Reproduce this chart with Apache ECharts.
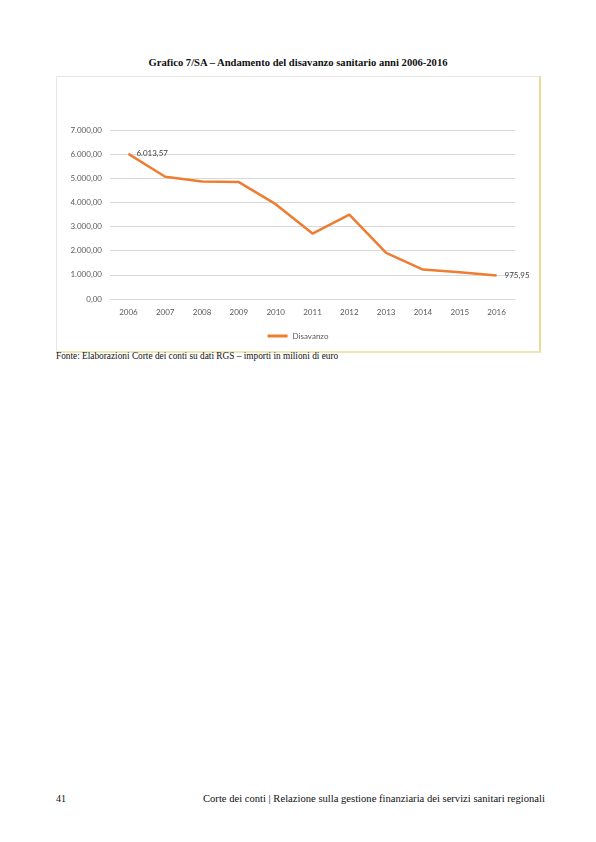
<!DOCTYPE html>
<html>
<head>
<meta charset="utf-8">
<script src="https://cdn.jsdelivr.net/npm/echarts@6/dist/echarts.min.js"></script>
<style>
  html, body { margin: 0; padding: 0; background: #fff; }
  body { width: 596px; height: 842px; position: relative; overflow: hidden; }
  .serif { font-family: "Liberation Serif", "DejaVu Serif", serif; color: #111; position: absolute; white-space: nowrap; }
  #title { top: 57px; left: 0; width: 596px; text-align: center; font-weight: bold; font-size: 10.6px; }
  #frame {
    position: absolute; left: 56px; top: 76px; width: 482px; height: 274px;
    border-top: 1px solid #e6e6e6; border-left: 1px solid #e6e6e6;
    border-right: 2px solid #e8dc9c; border-bottom: 2px solid #efe6b8;
  }
  #chart { width: 482px; height: 274px; }
  #source { top: 351px; left: 56px; font-size: 9.3px; }
  #pagenum { top: 793px; left: 56px; font-size: 10px; }
  #running { top: 793px; left: 203px; font-size: 10.6px; }
</style>
</head>
<body>
<div id="title" class="serif">Grafico 7/SA – Andamento del disavanzo sanitario anni 2006-2016</div>
<div id="frame"><div id="chart"></div></div>
<div id="source" class="serif">Fonte: Elaborazioni Corte dei conti su dati RGS – importi in milioni di euro</div>
<div id="pagenum" class="serif">41</div>
<div id="running" class="serif">Corte dei conti | Relazione sulla gestione finanziaria dei servizi sanitari regionali</div>
<script>
(function() {
	'use strict';

	var years = ['2006', '2007', '2008', '2009', '2010', '2011', '2012', '2013', '2014', '2015', '2016'];
	var disavanzo = [6013.57, 5062, 4869, 4841, 3928, 2711, 3499, 1909, 1217, 1107, 975.95];
	var labelledPoints = [0, 10];

	// formato italiano: 7.000,00
	function fmtIt(v) {
		var parts = Number(v).toFixed(2).split('.');
		return parts[0].replace(/\B(?=(\d{3})+(?!\d))/g, '.') + ',' + parts[1];
	}

	var option = {
		animation: false,
		textStyle: { fontFamily: 'Lato, "Open Sans", sans-serif' },
		grid: {
			top: 53,
			left: 53,
			right: 24,
			bottom: 52
		},
		legend: {
			bottom: 6,
			left: 'center',
			icon: 'rect',
			itemWidth: 20,
			itemHeight: 3,
			itemGap: 4,
			textStyle: { fontSize: 8, color: '#595959', fontFamily: 'Lato, sans-serif' },
			data: ['Disavanzo']
		},
		xAxis: {
			type: 'category',
			data: years,
			boundaryGap: true,
			axisLine: { lineStyle: { color: '#d9d9d9' } },
			axisTick: { show: false },
			axisLabel: { fontSize: 8, color: '#595959', margin: 9 }
		},
		yAxis: {
			type: 'value',
			min: 0,
			max: 7000,
			interval: 1000,
			axisLine: { show: false },
			axisTick: { show: false },
			splitLine: { lineStyle: { color: '#d9d9d9', width: 1 } },
			axisLabel: {
				fontSize: 8,
				color: '#595959',
				margin: 8,
				formatter: fmtIt
			}
		},
		series: [{
			name: 'Disavanzo',
			type: 'line',
			data: disavanzo,
			symbol: 'circle',
			symbolSize: 0,
			showSymbol: true,
			lineStyle: { color: '#ed7d31', width: 2.5 },
			itemStyle: { color: '#ed7d31' },
			label: {
				show: true,
				position: 'right',
				distance: 8,
				fontSize: 8,
				color: '#404040',
				formatter: function(p) {
					return labelledPoints.indexOf(p.dataIndex) >= 0 ? fmtIt(p.value) : '';
				}
			}
		}]
	};

	var chart = echarts.init(document.getElementById('chart'));
	chart.setOption(option);
})();
</script>
</body>
</html>
